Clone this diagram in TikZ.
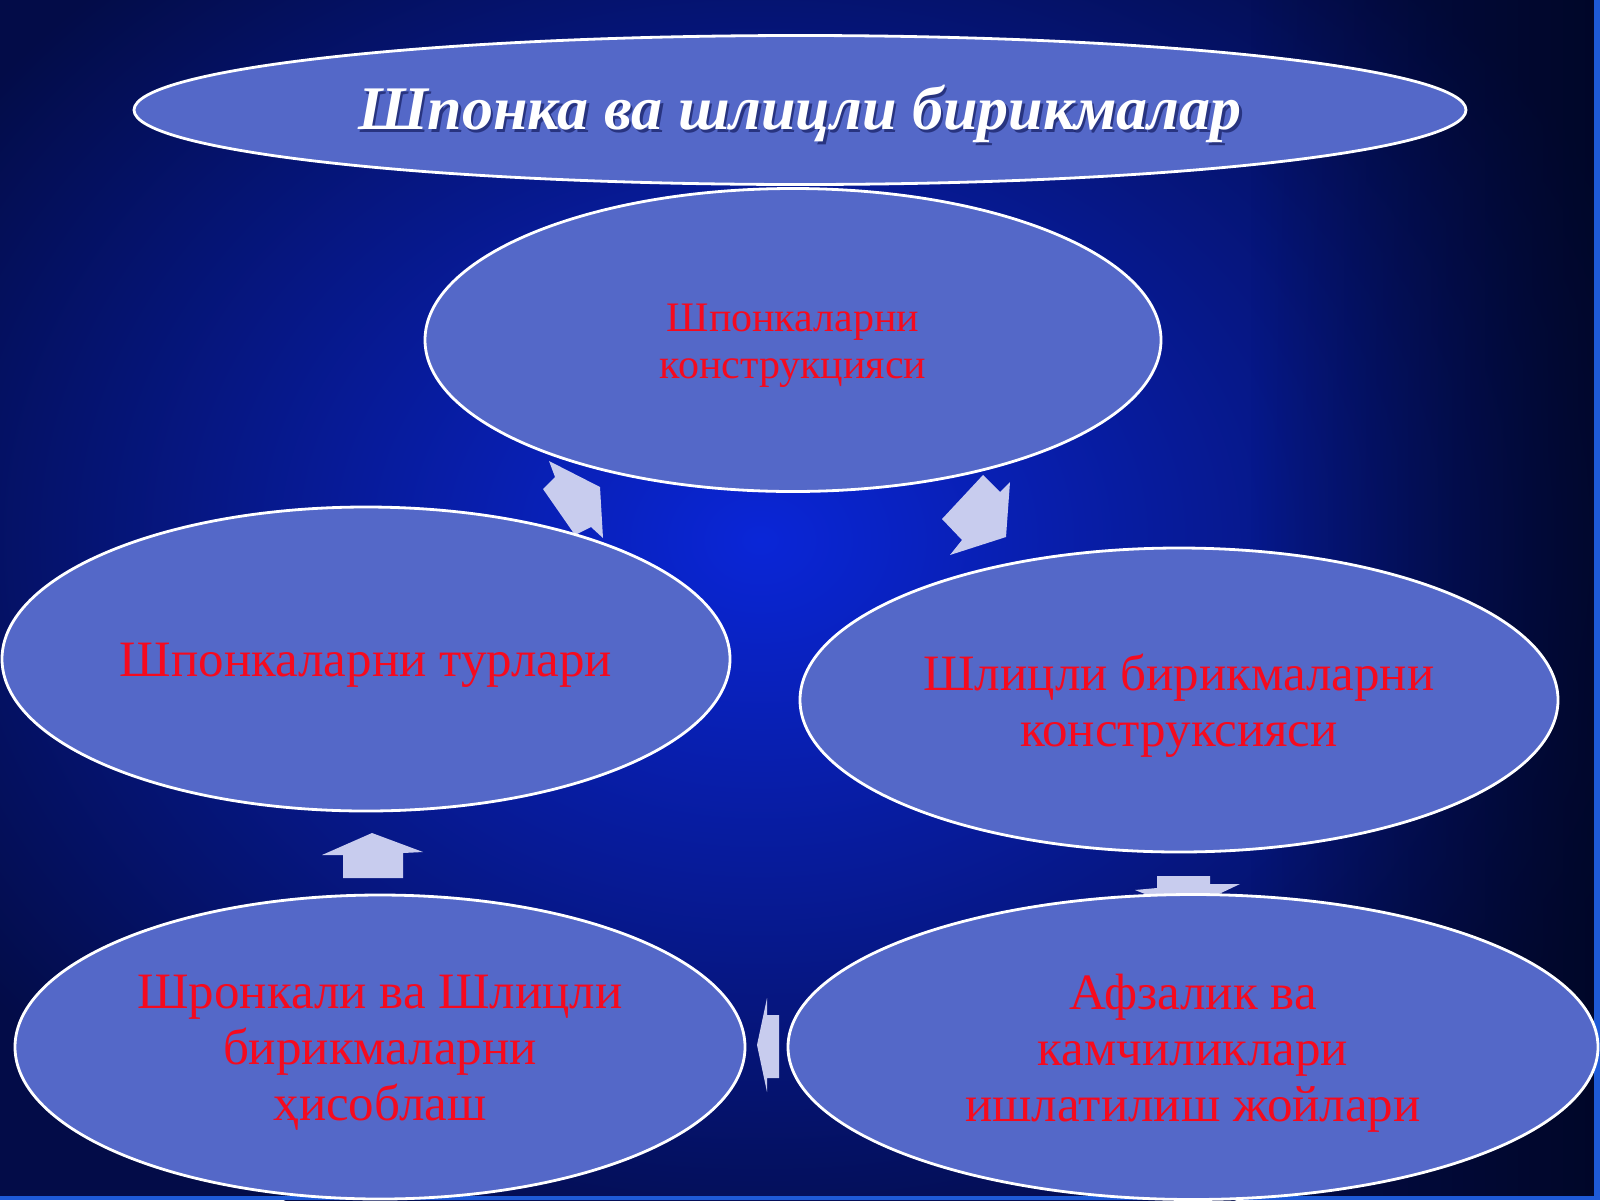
\documentclass[tikz,border=0pt]{standalone}
\usepackage{fontspec}
\setmainfont{Liberation Serif}
\usetikzlibrary{shapes.geometric,calc,fadings}
\definecolor{bgdark}{RGB}{3,12,72}
\definecolor{bgmid}{RGB}{10,38,215}
\definecolor{bgdeep}{RGB}{0,5,30}
\definecolor{ellfill}{RGB}{84,104,200}
\definecolor{arrowc}{RGB}{200,204,238}
\definecolor{edgestrip}{RGB}{30,90,215}
\definecolor{txtred}{RGB}{245,10,30}
\definecolor{shadowc}{RGB}{30,40,110}
\begin{document}
\begin{tikzpicture}[x=0.5pt,y=-0.5pt,
  oval/.style={ellipse, draw=white, line width=1.4pt, fill=ellfill, inner sep=0pt},
  redbig/.style={text=txtred, align=center, font=\fontsize{25.5}{28}\selectfont},
  redsmall/.style={text=txtred, align=center, font=\fontsize{21}{23.5}\selectfont},
  titlefont/.style={font=\fontsize{31}{36}\selectfont\bfseries\itshape},
  blockarrow/.style={fill=arrowc, draw=none}]
\useasboundingbox (0,0) rectangle (1600,1200);
% background
\fill[bgdark] (0,0) rectangle (1600,1200);
\shade[inner color=bgmid, outer color=bgdark] (760,540) ellipse (480pt and 380pt);
\fill[bgdeep, opacity=0.75, path fading=west] (1250,0) rectangle (1600,1200);
\fill[edgestrip] (1594,0) rectangle (1600,1200);
\fill[edgestrip] (0,1196) rectangle (1600,1200);
% block arrows
\fill[blockarrow] (549,461) -- (555,477) -- (543,489) -- (575,535) -- (591,527) -- (603,538) -- (600,487) -- cycle;
\fill[blockarrow] (983,475) -- (1000,492) -- (1010,482) -- (1006,537) -- (950,555) -- (962,540) -- (942,519) -- cycle;
\fill[blockarrow] (1157,876) -- (1210,876) -- (1210,884) -- (1240,884) -- (1185,910) -- (1135,890) -- (1157,888) -- cycle;
\fill[blockarrow] (767,998) -- (767,1015) -- (779,1015) -- (779,1078) -- (767,1078) -- (767,1092) -- (757,1045) -- cycle;
\fill[blockarrow] (372,833) -- (423,852) -- (403,853) -- (403,878) -- (343,878) -- (343,855) -- (322,855) -- cycle;
% ellipses
\node[oval, minimum width=666pt, minimum height=74.5pt] (title) at (800,110) {};
\node[titlefont, text=shadowc, opacity=0.8] (titleshadow) at ($(title.center)+(2.5,6.5)$) {Шпонка ва шлицли бирикмалар};
\node[titlefont, text=white] (titletext) at ($(title.center)+(0,4)$) {Шпонка ва шлицли бирикмалар};
\node[oval, redsmall, minimum width=368pt, minimum height=151.5pt, text depth=0pt] (top) at (793,340) {};
\node[redsmall] (toptext) at ($(top.center)+(0,6)$) {Шпонкаларни\\конструкцияси};
\node[oval, minimum width=364pt, minimum height=152pt] (left) at (366,659) {};
\node[redbig] (lefttext) at ($(left.center)+(0,6)$) {Шпонкаларни турлари};
\node[oval, minimum width=379pt, minimum height=152pt] (right) at (1179,700) {};
\node[redbig] (righttext) at ($(right.center)+(0,6)$) {Шлицли бирикмаларни\\конструксияси};
\node[oval, minimum width=365pt, minimum height=152pt] (bl) at (380,1047) {};
\node[redbig] (bltext) at ($(bl.center)+(0,6)$) {Шронкали ва Шлицли\\бирикмаларни\\ҳисоблаш};
\node[oval, minimum width=405pt, minimum height=152.5pt] (br) at (1193,1047) {};
\node[redbig] (brtext) at ($(br.center)+(0,6)$) {Афзалик ва\\камчиликлари\\ишлатилиш жойлари};
\end{tikzpicture}
\end{document}
